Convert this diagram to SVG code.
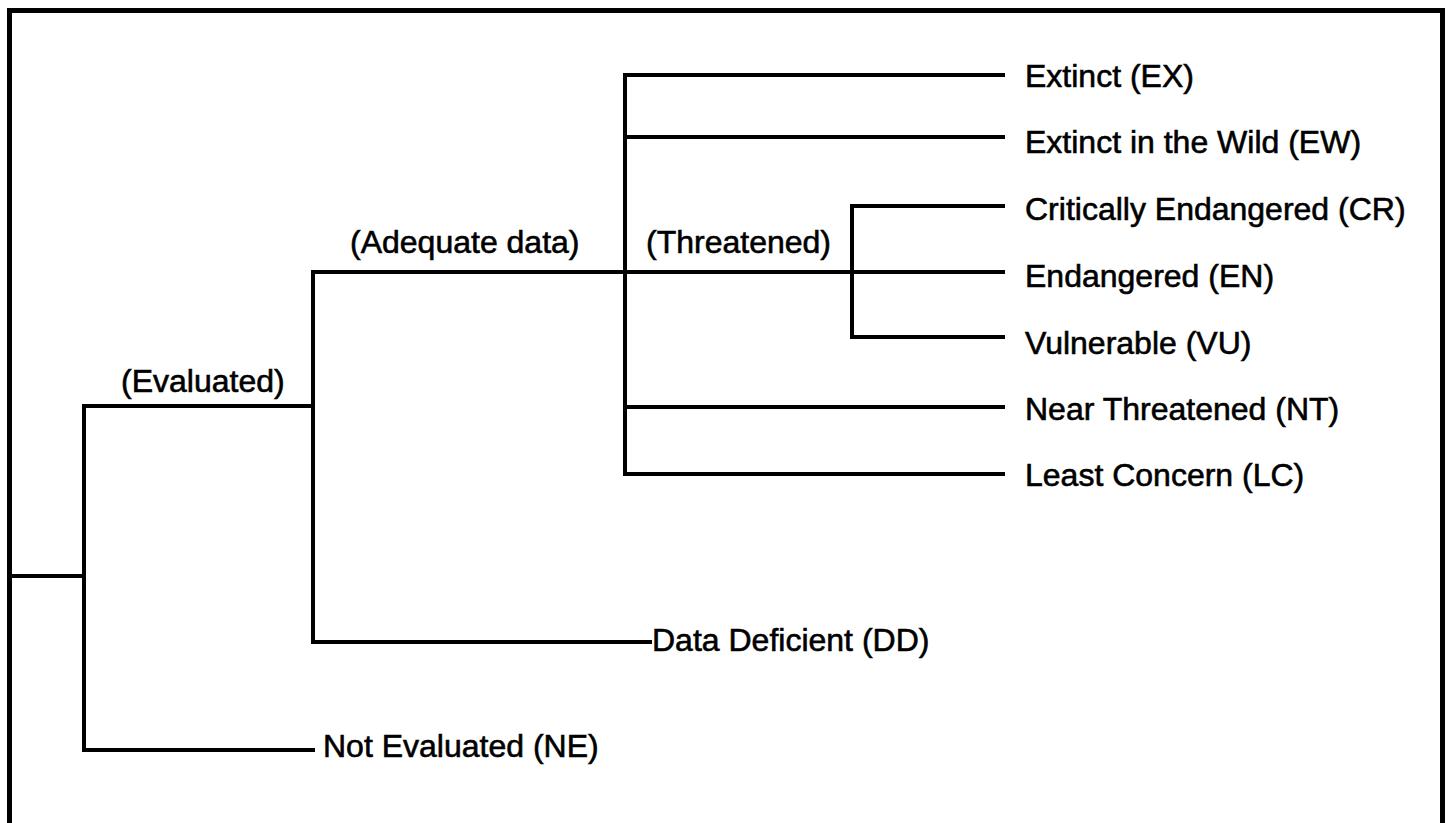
<svg xmlns="http://www.w3.org/2000/svg" width="1448" height="823" viewBox="0 0 1448 823">
<style>
.ln{stroke:#000;stroke-width:4;fill:none;stroke-linecap:square}
.t{font-family:"Liberation Sans",Arial,sans-serif;font-size:32px;fill:#000;stroke:#000;stroke-width:0.6}
</style>
<rect x="0" y="0" width="1448" height="823" fill="#fff"/>
<rect x="9.5" y="10.5" width="1433" height="830" fill="none" stroke="#000" stroke-width="5"/>
<g id="connectors">
<path class="ln" d="M12 576H84M84 406V750M84 406H313M84 750H313"/>
<path class="ln" d="M313 272V642M313 272H1003M313 642H650"/>
<path class="ln" d="M625 75V474M625 75H1003M625 137H1003M625 407H1003M625 474H1003"/>
<path class="ln" d="M852 206V337M852 206H1003M852 337H1003"/>
</g>
<g id="evaluated"><text class="t" x="121" y="392">(Evaluated)</text></g>
<g id="adequate"><text class="t" x="350" y="253">(Adequate data)</text></g>
<g id="threatened"><text class="t" x="646" y="253">(Threatened)</text></g>
<g id="ex"><text class="t" x="1025" y="87">Extinct (EX)</text></g>
<g id="ew"><text class="t" x="1025" y="153">Extinct in the Wild (EW)</text></g>
<g id="cr"><text class="t" x="1025" y="220">Critically Endangered (CR)</text></g>
<g id="en"><text class="t" x="1025" y="287">Endangered (EN)</text></g>
<g id="vu"><text class="t" x="1025" y="354">Vulnerable (VU)</text></g>
<g id="nt"><text class="t" x="1025" y="420">Near Threatened (NT)</text></g>
<g id="lc"><text class="t" x="1025" y="486">Least Concern (LC)</text></g>
<g id="dd"><text class="t" x="652" y="651">Data Deficient (DD)</text></g>
<g id="ne"><text class="t" x="323" y="757">Not Evaluated (NE)</text></g>
</svg>
